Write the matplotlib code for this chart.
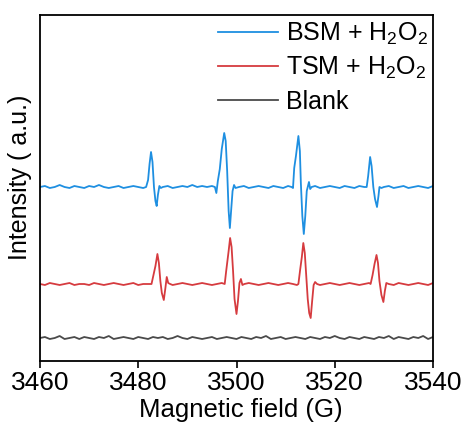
import numpy as np
import matplotlib
matplotlib.use("Agg")
import matplotlib.pyplot as plt

plt.rcParams['font.family'] = ['Liberation Sans', 'DejaVu Sans']
plt.rcParams['mathtext.fontset'] = 'custom'
plt.rcParams['mathtext.rm'] = 'Liberation Sans'
plt.rcParams['mathtext.it'] = 'Liberation Sans:italic'

# ---------------- data ----------------
labels = ['BSM + H$_2$O$_2$', 'TSM + H$_2$O$_2$', 'Blank']
colors = ['#1E8FE1', '#D63B3F', '#4A4A4A']
x_ticks = [3460, 3480, 3500, 3520, 3540]

blue_field = [3460, 3461, 3462, 3463, 3464, 3465, 3466, 3467, 3468, 3469, 3470,
              3471, 3472, 3473, 3474, 3475, 3476, 3477, 3478, 3479, 3480, 3481,
              3481.6, 3482.0, 3482.3, 3482.6, 3482.9, 3483.2, 3483.5, 3483.75, 3484.0, 3484.3, 3484.6,
              3485, 3486, 3487, 3488, 3489, 3490, 3491, 3492, 3493, 3494, 3495,
              3495.6, 3495.9, 3496.2, 3496.6, 3497.0, 3497.5, 3497.8, 3498.1, 3498.4, 3498.65,
              3498.9, 3499.2, 3499.5, 3499.8,
              3500.5, 3501.5, 3502.5, 3503.5, 3504.5, 3505.5, 3506.5, 3507.5, 3508.5, 3509.5,
              3510.5, 3511.2,
              3511.5, 3511.75, 3512.1, 3512.6, 3512.9, 3513.1, 3513.4, 3513.7, 3514.0, 3514.3,
              3514.75, 3515.0, 3515.3,
              3516, 3517, 3518, 3519, 3520, 3521, 3522, 3523, 3524, 3525, 3526,
              3526.5, 3526.8, 3527.2, 3527.5, 3527.85, 3528.2, 3528.6, 3528.9, 3529.1, 3529.5,
              3530, 3531, 3532, 3533, 3534, 3535, 3536, 3537, 3538, 3539, 3540]
blue_int = [174, 175, 173, 174, 176, 174, 173, 175, 174, 173, 175,
            174, 176, 174, 173, 174, 175, 173, 174, 175, 174, 173,
            174, 181, 197, 209, 199, 174, 160, 155, 166, 175, 173,
            174, 175, 173, 174, 175, 174, 176, 174, 175, 174, 175,
            174, 168, 180, 192, 212, 228, 220, 190, 150, 133,
            150, 170, 176, 173,
            174, 175, 173, 174, 175, 174, 173, 175, 174, 173,
            175, 174,
            173, 193, 205, 225, 210, 178, 145, 127, 145, 170,
            179, 172, 174,
            175, 173, 174, 175, 174, 173, 175, 174, 173, 175, 174,
            174, 185, 204, 195, 174, 162, 154, 165, 174, 173,
            174, 175, 173, 174, 175, 173, 174, 175, 174, 173, 175]

red_field = [3460, 3461, 3462, 3463, 3464, 3465, 3466, 3467, 3468, 3469, 3470,
             3471, 3472, 3473, 3474, 3475, 3476, 3477, 3478, 3479, 3480, 3481, 3482,
             3482.7, 3483.1, 3483.5, 3483.9, 3484.2, 3484.5, 3484.8, 3485.2, 3485.5, 3485.8,
             3486.1, 3486.5,
             3487, 3488, 3489, 3490, 3491, 3492, 3493, 3494, 3495, 3496, 3497,
             3497.6, 3497.9, 3498.1, 3498.4, 3498.7, 3499.0, 3499.3, 3499.6, 3500.0, 3500.3,
             3500.6, 3500.9, 3501.2, 3501.6,
             3502.5, 3503.5, 3504.5, 3505.5, 3506.5, 3507.5, 3508.5, 3509.5, 3510.5, 3511.5,
             3512.3,
             3512.6, 3512.95, 3513.3, 3513.6, 3513.9, 3514.2, 3514.5, 3514.8, 3515.1, 3515.4,
             3515.7, 3516.0, 3516.4,
             3517, 3518, 3519, 3520, 3521, 3522, 3523, 3524, 3525, 3526, 3527,
             3527.3, 3527.7, 3528.1, 3528.5, 3528.8, 3529.1, 3529.5, 3529.9, 3530.2, 3530.5,
             3531, 3532, 3533, 3534, 3535, 3536, 3537, 3538, 3539, 3540]
red_int = [77, 76, 78, 77, 76, 77, 78, 76, 77, 77, 76,
           78, 77, 76, 77, 78, 77, 76, 77, 78, 76, 77, 77,
           77, 86, 95, 107, 98, 80, 68, 61, 72, 84,
           78, 77,
           76, 77, 78, 77, 76, 77, 78, 77, 76, 77, 78,
           77, 90, 98, 110, 123, 114, 90, 62, 47, 60,
           78, 82, 76, 77,
           78, 77, 76, 77, 78, 77, 76, 77, 78, 77,
           76,
           77, 91, 104, 118, 108, 85, 62, 48, 43, 60,
           76, 79, 77,
           76, 77, 78, 77, 76, 77, 78, 77, 76, 77, 78,
           77, 86, 97, 106, 98, 80, 66, 59, 70, 78,
           77, 76, 78, 77, 76, 77, 78, 77, 76, 78]

blank_field = list(range(3460, 3541))
blank_int = [23, 24, 22, 23, 25, 22, 23, 24, 22, 24,
             23, 22, 24, 23, 25, 22, 23, 24, 23, 22,
             24, 23, 22, 24, 23, 24, 22, 23, 25, 23,
             22, 24, 23, 22, 23, 24, 22, 23, 24, 23,
             22, 24, 23, 22, 24, 23, 25, 22, 23, 24,
             22, 23, 24, 23, 22, 24, 23, 22, 24, 23,
             25, 23, 22, 24, 23, 22, 24, 23, 22, 24,
             23, 25, 22, 24, 23, 22, 24, 23, 25, 22,
             24]

# ---------------- plot ----------------
fig = plt.figure(figsize=(4.64, 4.23), dpi=100)
ax = fig.add_axes([40/464, 1-361/423, 393/464, 346/423])

series = [(blue_field, blue_int), (red_field, red_int), (blank_field, blank_int)]
for (fx, fy), lab, col in zip(series, labels, colors):
    ax.plot(fx, fy, color=col, lw=1.3, label=lab)

ax.set_xlim(3460, 3540)
ax.set_ylim(0, 346)
ax.set_xticks(x_ticks)
ax.set_yticks([])
ax.tick_params(axis='x', direction='out', length=5, width=1.2, labelsize=19, pad=2)
for s in ax.spines.values():
    s.set_linewidth(1.3)
ax.set_xlabel('Magnetic field (G)', fontsize=18.5)
ax.xaxis.set_label_coords(0.511, -0.108)
ax.set_ylabel('Intensity ( a.u.)', fontsize=18)
ax.yaxis.set_label_coords(-0.02, 0.53)

leg = ax.legend(loc='upper right', frameon=False, fontsize=18, handlelength=2.4,
                handletextpad=0.32, labelspacing=0.33, borderaxespad=0.0,
                borderpad=0.2, bbox_to_anchor=(1.0, 0.998))

fig.savefig('out.png', dpi=100)
